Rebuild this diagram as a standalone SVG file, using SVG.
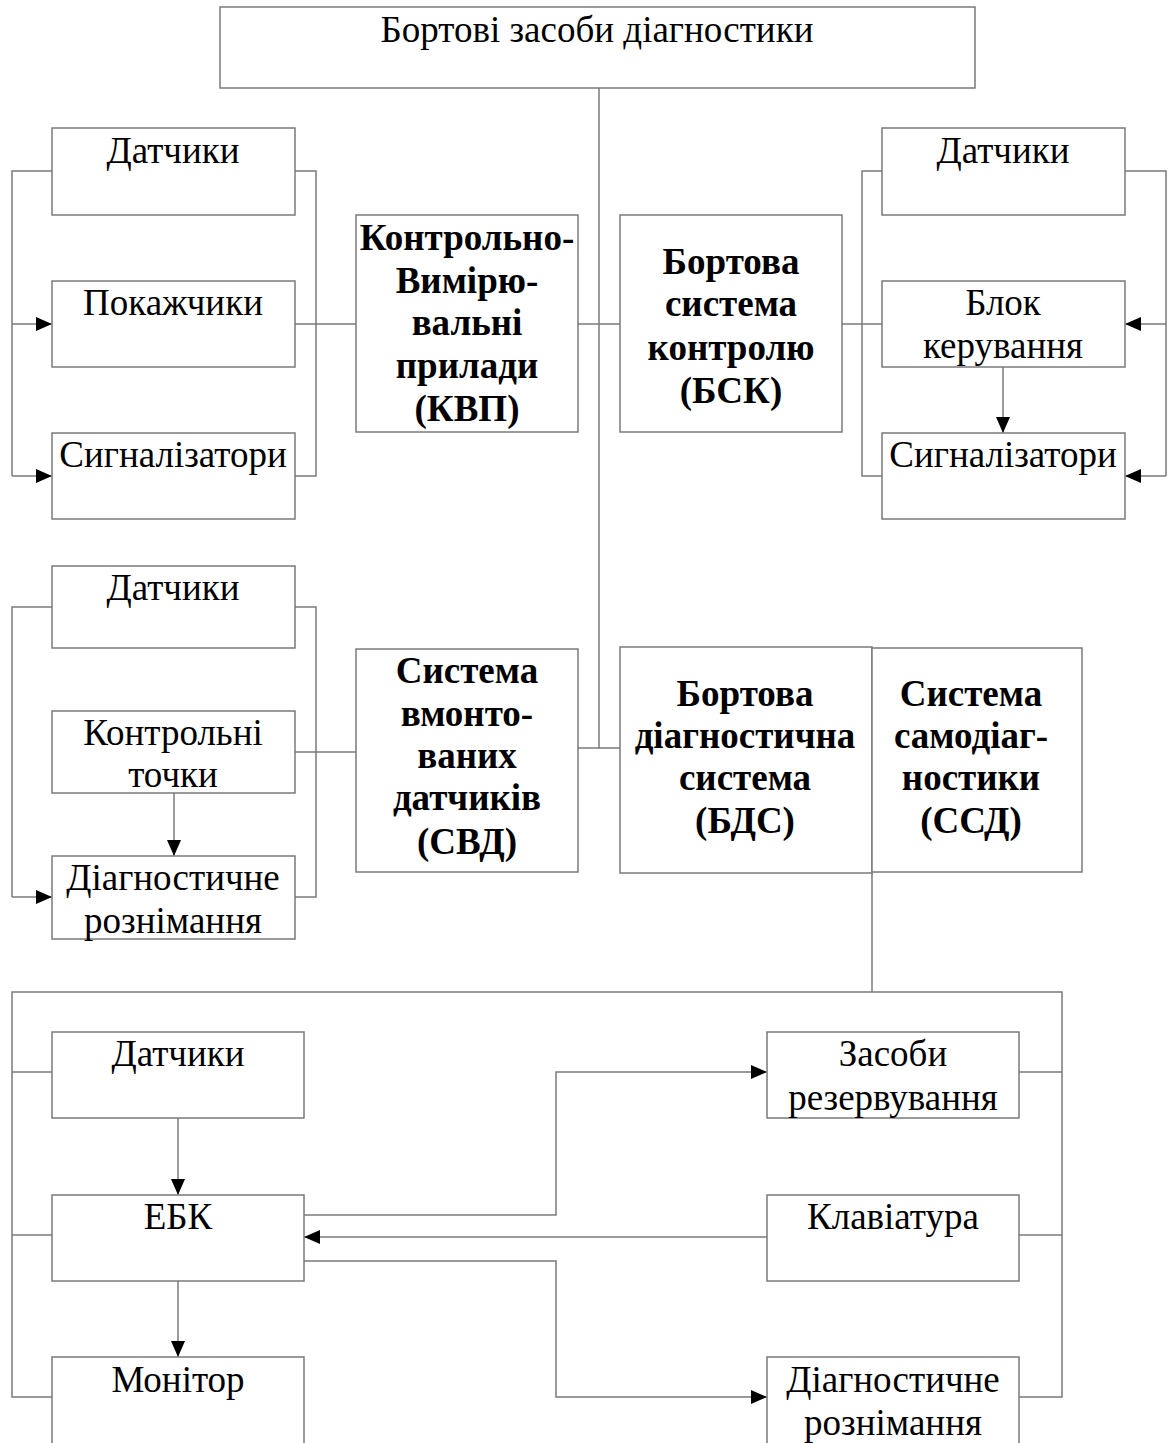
<svg xmlns="http://www.w3.org/2000/svg" width="1168" height="1443" viewBox="0 0 1168 1443">
<style>
.box{fill:#fff;stroke:#7a7a7a;stroke-width:1.5}
.ln{fill:none;stroke:#7a7a7a;stroke-width:1.5}
.t{font-family:"Liberation Serif","Times New Roman",serif;font-size:37px;fill:#000;text-anchor:middle}
.b{font-family:"Liberation Serif","Times New Roman",serif;font-size:37px;font-weight:bold;fill:#000;text-anchor:middle}
</style>
<defs>
<marker id="ah" markerWidth="16" markerHeight="14" refX="16" refY="7" orient="auto" markerUnits="userSpaceOnUse">
<path d="M0,0 L16,7 L0,14 Z" fill="#000"/>
</marker>
</defs>
<rect width="1168" height="1443" fill="#fff"/>

<g id="connectors">
<!-- main trunk -->
<path class="ln" d="M599,88 V748 H620"/>
<path class="ln" d="M578,748 H599"/>
<path class="ln" d="M578,324 H620"/>
<!-- left upper group buses -->
<path class="ln" d="M52,171 H12 V476"/>
<path class="ln" d="M12,324 H52" marker-end="url(#ah)"/>
<path class="ln" d="M12,476 H52" marker-end="url(#ah)"/>
<path class="ln" d="M295,171 H316 V476 H295"/>
<path class="ln" d="M295,324 H356"/>
<!-- right upper group buses -->
<path class="ln" d="M882,171 H862 V476 H882"/>
<path class="ln" d="M842,324 H882"/>
<path class="ln" d="M1125,171 H1166 V476"/>
<path class="ln" d="M1166,324 H1125" marker-end="url(#ah)"/>
<path class="ln" d="M1166,476 H1125" marker-end="url(#ah)"/>
<path class="ln" d="M1003,367 V433" marker-end="url(#ah)"/>
<!-- left middle group buses -->
<path class="ln" d="M52,607 H12 V897"/>
<path class="ln" d="M12,897 H52" marker-end="url(#ah)"/>
<path class="ln" d="M295,607 H316 V897 H295"/>
<path class="ln" d="M295,752 H356"/>
<path class="ln" d="M174,793 V856" marker-end="url(#ah)"/>
<!-- lower frame -->
<path class="ln" d="M872,873 V992"/>
<path class="ln" d="M52,1072 H12 V992 H1062 V1397 H1019"/>
<path class="ln" d="M12,1072 V1397 H52"/>
<path class="ln" d="M12,1235 H52"/>
<path class="ln" d="M1019,1072 H1062"/>
<path class="ln" d="M1019,1235 H1062"/>
<!-- lower arrows -->
<path class="ln" d="M178,1118 V1195" marker-end="url(#ah)"/>
<path class="ln" d="M178,1281 V1357" marker-end="url(#ah)"/>
<path class="ln" d="M304,1215 H556 V1072 H767" marker-end="url(#ah)"/>
<path class="ln" d="M767,1237 H304" marker-end="url(#ah)"/>
<path class="ln" d="M304,1261 H556 V1397 H767" marker-end="url(#ah)"/>
</g>

<g id="root">
<rect class="box" x="220" y="7" width="755" height="81"/>
<text class="t" x="597" y="42">Бортові засоби діагностики</text>
</g>

<g id="kvp">
<rect class="box" x="356" y="215" width="222" height="217"/>
<text class="b" x="467" y="250">Контрольно-</text>
<text class="b" x="467" y="293">Вимірю-</text>
<text class="b" x="467" y="335">вальні</text>
<text class="b" x="467" y="378">прилади</text>
<text class="b" x="467" y="421">(КВП)</text>
</g>

<g id="bsk">
<rect class="box" x="620" y="215" width="222" height="217"/>
<text class="b" x="731" y="274">Бортова</text>
<text class="b" x="731" y="316">система</text>
<text class="b" x="731" y="360">контролю</text>
<text class="b" x="731" y="403">(БСК)</text>
</g>

<g id="kvp-sensors">
<rect class="box" x="52" y="128" width="243" height="87"/>
<text class="t" x="173" y="163">Датчики</text>
</g>
<g id="kvp-indicators">
<rect class="box" x="52" y="281" width="243" height="86"/>
<text class="t" x="173" y="315">Покажчики</text>
</g>
<g id="kvp-signals">
<rect class="box" x="52" y="433" width="243" height="86"/>
<text class="t" x="173" y="467">Сигналізатори</text>
</g>

<g id="bsk-sensors">
<rect class="box" x="882" y="128" width="243" height="87"/>
<text class="t" x="1003" y="163">Датчики</text>
</g>
<g id="bsk-control">
<rect class="box" x="882" y="281" width="243" height="86"/>
<text class="t" x="1003" y="315">Блок</text>
<text class="t" x="1003" y="358">керування</text>
</g>
<g id="bsk-signals">
<rect class="box" x="882" y="433" width="243" height="86"/>
<text class="t" x="1003" y="467">Сигналізатори</text>
</g>

<g id="svd">
<rect class="box" x="356" y="649" width="222" height="223"/>
<text class="b" x="467" y="683">Система</text>
<text class="b" x="467" y="726">вмонто-</text>
<text class="b" x="467" y="768">ваних</text>
<text class="b" x="467" y="810">датчиків</text>
<text class="b" x="467" y="854">(СВД)</text>
</g>

<g id="svd-sensors">
<rect class="box" x="52" y="566" width="243" height="82"/>
<text class="t" x="173" y="600">Датчики</text>
</g>
<g id="svd-points">
<rect class="box" x="52" y="711" width="243" height="82"/>
<text class="t" x="173" y="745">Контрольні</text>
<text class="t" x="173" y="787">точки</text>
</g>
<g id="svd-connector">
<rect class="box" x="52" y="856" width="243" height="83"/>
<text class="t" x="173" y="890">Діагностичне</text>
<text class="t" x="173" y="933">рознімання</text>
</g>

<g id="bds">
<rect class="box" x="620" y="647" width="252" height="226"/>
<text class="b" x="745" y="706">Бортова</text>
<text class="b" x="745" y="748">діагностична</text>
<text class="b" x="745" y="790">система</text>
<text class="b" x="745" y="833">(БДС)</text>
</g>
<g id="ssd">
<rect class="box" x="872" y="648" width="210" height="224"/>
<text class="b" x="971" y="706">Система</text>
<text class="b" x="971" y="748">самодіаг-</text>
<text class="b" x="971" y="790">ностики</text>
<text class="b" x="971" y="833">(ССД)</text>
</g>

<g id="bds-sensors">
<rect class="box" x="52" y="1032" width="252" height="86"/>
<text class="t" x="178" y="1066">Датчики</text>
</g>
<g id="ebk">
<rect class="box" x="52" y="1195" width="252" height="86"/>
<text class="t" x="178" y="1229">ЕБК</text>
</g>
<g id="monitor">
<rect class="box" x="52" y="1357" width="252" height="90"/>
<text class="t" x="178" y="1392">Монітор</text>
</g>
<g id="backup">
<rect class="box" x="767" y="1032" width="252" height="86"/>
<text class="t" x="893" y="1066">Засоби</text>
<text class="t" x="893" y="1110">резервування</text>
</g>
<g id="keyboard">
<rect class="box" x="767" y="1195" width="252" height="86"/>
<text class="t" x="893" y="1229">Клавіатура</text>
</g>
<g id="bds-connector">
<rect class="box" x="767" y="1357" width="252" height="90"/>
<text class="t" x="893" y="1392">Діагностичне</text>
<text class="t" x="893" y="1435">рознімання</text>
</g>
</svg>
